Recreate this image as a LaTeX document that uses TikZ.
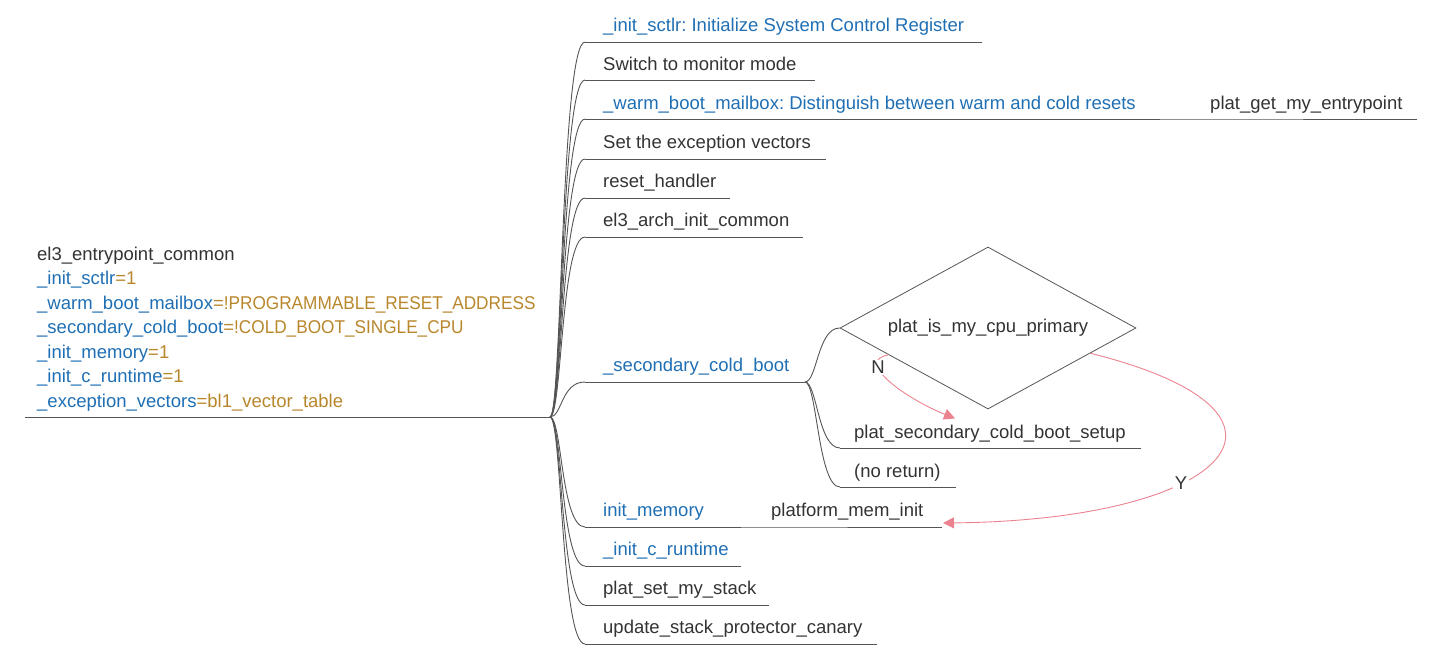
\documentclass[tikz,border=0pt]{standalone}
\usepackage{fontspec}
\usepackage{graphicx}
\setmainfont{Liberation Sans}
\usetikzlibrary{shapes.geometric,arrows.meta,calc}
\definecolor{tgray}{HTML}{333333}
\definecolor{tblue}{HTML}{1F6FB4}
\definecolor{tgold}{HTML}{B8862B}
\definecolor{lgray}{HTML}{555555}
\definecolor{ared}{HTML}{EC8290}
\frenchspacing
\newcommand{\capsfit}[1]{\scalebox{0.93}[1]{#1}}
\begin{document}
\begin{tikzpicture}[x=1pt,y=-1pt,
  txt/.style={anchor=base west, inner sep=0pt, font=\fontsize{18.5}{24.5}\selectfont, text=tgray},
  btxt/.style={txt, text=tblue},
  branch/.style={draw=lgray, line width=0.9pt},
  redarrow/.style={draw=ared, line width=0.9pt, -{Triangle[length=11pt,width=11pt]}},
  lab/.style={fill=white, inner sep=1.5pt, font=\fontsize{18.5}{20}\selectfont, text=tgray},
  curv/.style={branch, to path={.. controls +(12,0) and +(-24,0) .. (\tikztotarget)}},
  subcurv/.style={branch, to path={.. controls +(12,0) and +(-22,0) .. (\tikztotarget)}}]
\useasboundingbox (0,0) rectangle (1440,656);

% root
\node[txt, align=left] (root) at (37,407) {el3\_entrypoint\_common\\
\textcolor{tblue}{\_init\_sctlr}\textcolor{tgold}{=1}\\
\textcolor{tblue}{\_warm\_boot\_mailbox}\textcolor{tgold}{=\capsfit{!PROGRAMMABLE\_RESET\_ADDRESS}}\\
\textcolor{tblue}{\_secondary\_cold\_boot}\textcolor{tgold}{=\capsfit{!COLD\_BOOT\_SINGLE\_CPU}}\\
\textcolor{tblue}{\_init\_memory}\textcolor{tgold}{=1}\\
\textcolor{tblue}{\_init\_c\_runtime}\textcolor{tgold}{=1}\\
\textcolor{tblue}{\_exception\_vectors}\textcolor{tgold}{=bl1\_vector\_table}};
\coordinate (rs) at (25,417);
\coordinate (j) at (550,417);
\draw[branch] (rs) -- (j);

% children text
\node[btxt] (t1) at (603,31) {\_init\_sctlr: Initialize System Control Register};
\node[txt] (t2) at (603,70) {Switch to monitor mode};
\node[btxt] (t3) at (603,109) {\_warm\_boot\_mailbox: Distinguish between warm and cold resets};
\node[txt] (t4) at (603,148) {Set the exception vectors};
\node[txt] (t5) at (603,187) {reset\_handler};
\node[txt] (t6) at (603,226) {el3\_arch\_init\_common};
\node[btxt] (t7) at (603,371) {\_secondary\_cold\_boot};
\node[btxt] (t8) at (603,516) {init\_memory};
\node[btxt] (t9) at (603,555) {\_init\_c\_runtime};
\node[txt] (t10) at (603,594) {plat\_set\_my\_stack};
\node[txt] (t11) at (603,633) {update\_stack\_protector\_canary};

% underline start/end coordinates
\coordinate (s1) at (585,42);   \coordinate (e1) at (982,42);
\coordinate (s2) at (585,80);   \coordinate (e2) at (815,80);
\coordinate (s3) at (585,119);  \coordinate (e3) at (1160,119);
\coordinate (s4) at (585,159);  \coordinate (e4) at (826,159);
\coordinate (s5) at (585,198);  \coordinate (e5) at (730,198);
\coordinate (s6) at (585,237);  \coordinate (e6) at (803,237);
\coordinate (s7) at (585,382);  \coordinate (e7) at (805,382);
\coordinate (s8) at (585,527);  \coordinate (e8) at (741,527);
\coordinate (s9) at (585,566);  \coordinate (e9) at (741,566);
\coordinate (s10) at (585,605); \coordinate (e10) at (769,605);
\coordinate (s11) at (585,644); \coordinate (e11) at (877,644);

\foreach \i in {1,...,11}{
  \draw[curv] (j) to (s\i);
  \draw[branch] (s\i) -- (e\i);
}

% warm boot child
\node[txt] (g1) at (1210,109) {plat\_get\_my\_entrypoint};
\coordinate (gs) at (1192,119); \coordinate (ge) at (1417,119);
\draw[branch] (e3) -- (gs) -- (ge);

% init_memory child
\node[txt] (m1) at (771,516) {platform\_mem\_init};
\coordinate (ms) at (755,527); \coordinate (me) at (942,527);
\draw[branch] (e8) -- (ms) -- (me);

% secondary cold boot children
\node[diamond, draw=lgray, line width=0.8pt, minimum width=296pt, minimum height=162pt, aspect=1.83, inner sep=0pt,
      font=\fontsize{18.5}{20}\selectfont, text=tgray] (d) at (988,328) {plat\_is\_my\_cpu\_primary};
\node[txt] (p1) at (854,438) {plat\_secondary\_cold\_boot\_setup};
\node[txt] (p2) at (854,477) {(no return)};
\coordinate (ps1) at (840,448); \coordinate (pe1) at (1141,448);
\coordinate (ps2) at (840,487); \coordinate (pe2) at (956,487);
\draw[subcurv] (e7) to (d.west);
\draw[subcurv] (e7) to (ps1);
\draw[subcurv] (e7) to (ps2);
\draw[branch] (ps1) -- (pe1);
\draw[branch] (ps2) -- (pe2);

% decision arrows
\draw[redarrow] ($(d.west)!0.33!(d.south)$) .. controls +(-35,6) and +(-50,-20) .. ($(p1.north west)+(101,-6)$)
  node[lab, pos=0.3] {N};
\draw[redarrow] ($(d.east)!0.31!(d.south)$) .. controls +(240,60) and +(287,-3) .. ($(me)+(1,-4)$)
  node[lab, pos=0.62] {Y};
\end{tikzpicture}
\end{document}
